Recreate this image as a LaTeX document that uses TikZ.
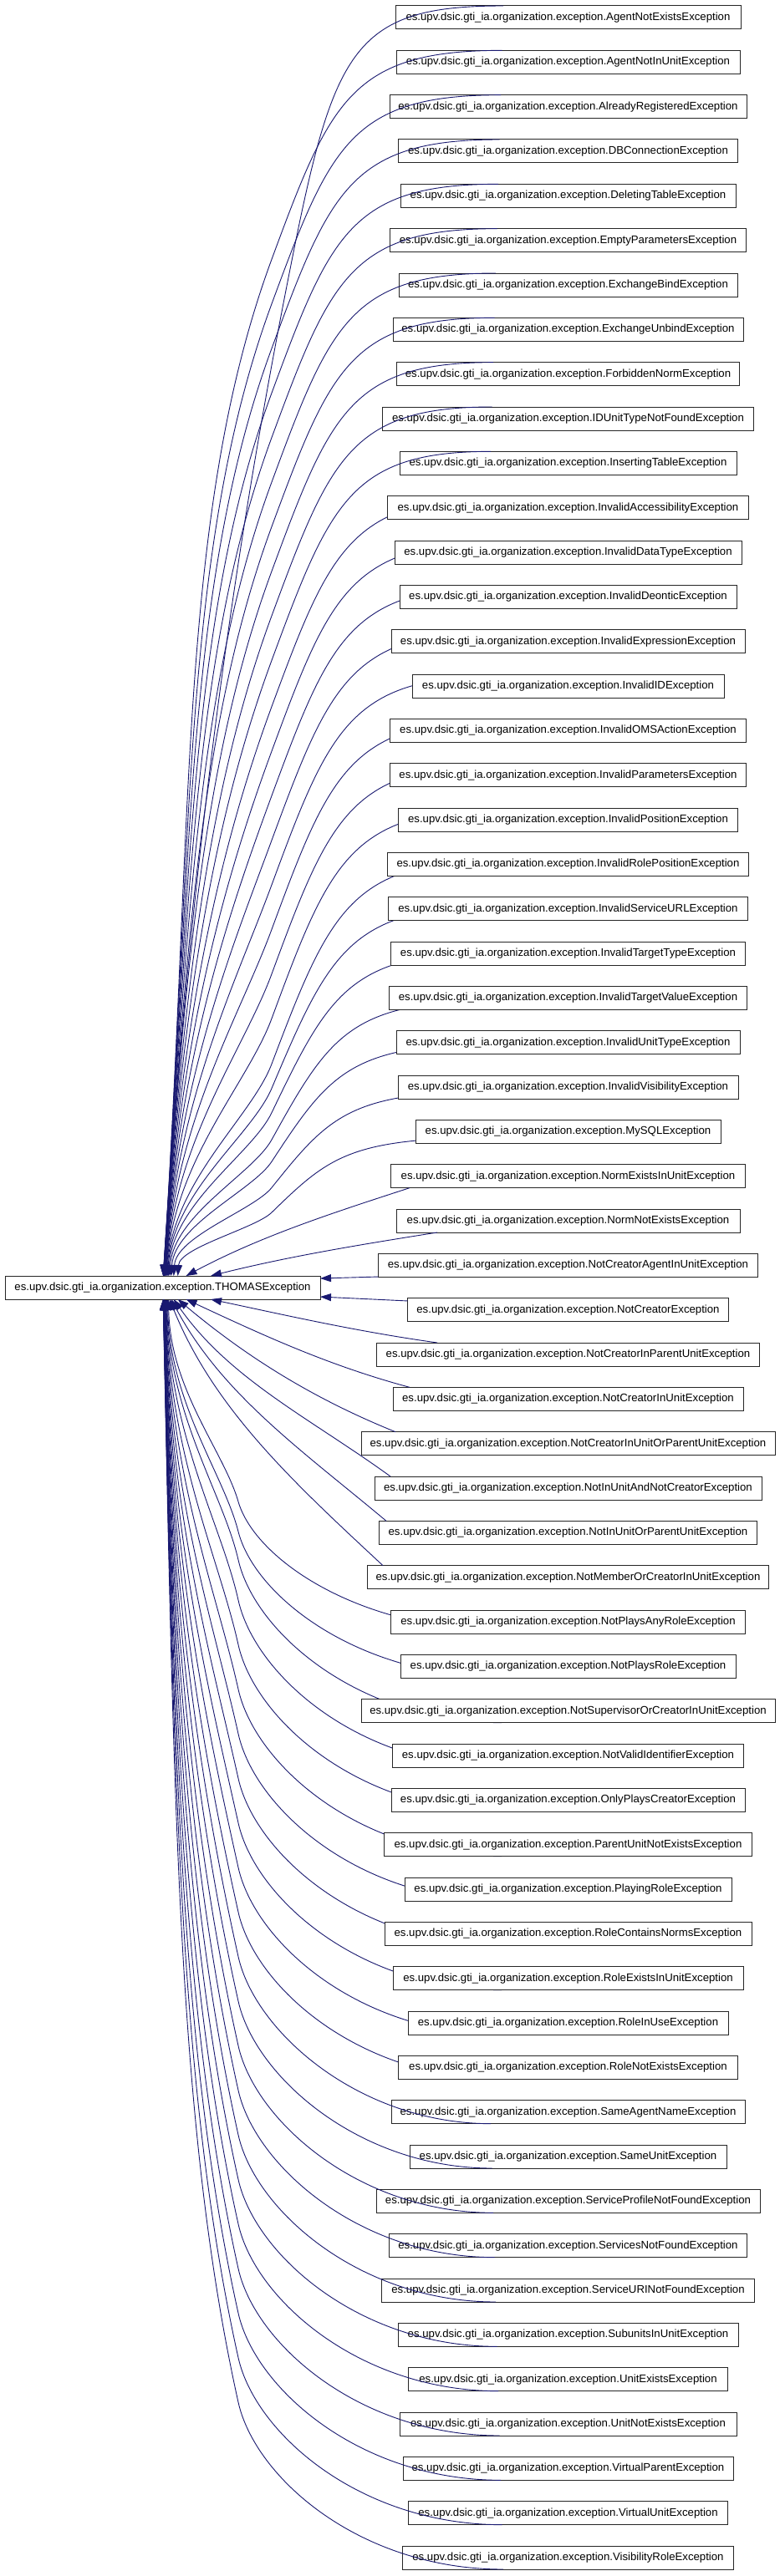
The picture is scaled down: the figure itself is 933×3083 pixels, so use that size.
\documentclass[tikz,border=0pt]{standalone}
\usepackage{fontspec}
\setmainfont{Liberation Sans}
\usetikzlibrary{arrows.meta,calc}
\definecolor{edgeblue}{HTML}{191970}
\pgfdeclarelayer{paper}
\pgfdeclarelayer{behind}
\pgfsetlayers{paper,behind,main}
\tikzset{
  cls/.style={draw=black!85, line width=1pt, fill=white, minimum height=28pt,
    inner sep=0pt, outer sep=0pt, font=\fontsize{13.2}{15}\selectfont, text=black},
  inh/.style={draw=edgeblue, line width=0.9pt, {Triangle[length=13pt,width=9pt]}-}
}
% edge to an upper child: #1 index, #2 vertical shift of end, #3 end x, #4 qx, #5 q offset, #6 c1x, #7 c1 offset, #8 c2x
\newcommand\famup[8]{%
  \pgfmathsetmacro\fTx{193+59/(29-#1)}%
  \pgfmathsetmacro\fT{7+53.333*(#1-1)}%
  \pgfmathsetmacro\fS{min(1,(1527-\fT)/520)}%
  \pgfmathsetmacro\fTb{\fT+#2}%
  \pgfmathsetmacro\fQy{\fTb+#5*\fS}%
  \pgfmathsetmacro\fH{1527-\fQy}%
  \pgfmathsetmacro\fCax{\fTx+0.03*\fH}%
  \pgfmathsetmacro\fCay{1527-0.45*\fH}%
  \pgfmathsetmacro\fK{0.25*\fH/((#5-#7)*\fS)}%
  \pgfmathsetmacro\fCbx{#4-(#6-#4)*\fK}%
  \pgfmathsetmacro\fCby{\fQy+0.25*\fH}%
  \pgfmathsetmacro\fCcy{\fTb+#7*\fS}%
  \draw[inh] ($(P.north)+(\fTx-194.5,0)$) .. controls (\fCax,\fCay) and (\fCbx,\fCby) .. (#4,\fQy)
     .. controls (#6,\fCcy) and (#8,\fTb) .. ($(n#1.north)+(#3-679.5,#2)$);
}
% edge to a lower child: #1 index, #2 vertical shift of end, #3 end x
\newcommand\famlo[3]{%
  \pgfmathsetmacro\fTx{193+59/(#1-30)}%
  \pgfmathsetmacro\fT{35+53.333*(#1-1)}%
  \pgfmathsetmacro\fS{min(1,(\fT-1555)/520)}%
  \pgfmathsetmacro\fTb{\fT-#2}%
  \pgfmathsetmacro\fQy{\fTb-200*\fS}%
  \pgfmathsetmacro\fH{\fQy-1555}%
  \pgfmathsetmacro\fCax{\fTx+0.01*\fH}%
  \pgfmathsetmacro\fCay{1555+0.45*\fH}%
  \pgfmathsetmacro\fCbx{285-20*0.25*\fH/(90*\fS)}%
  \pgfmathsetmacro\fCby{\fQy-0.25*\fH}%
  \pgfmathsetmacro\fCcy{\fTb-110*\fS}%
  \draw[inh] ($(P.south)+(\fTx-194.5,0)$) .. controls (\fCax,\fCay) and (\fCbx,\fCby) .. (285,\fQy)
     .. controls (305,\fCcy) and (430,\fTb) .. ($(n#1.south)+(#3-679.5,-#2)$);
}
\newcommand\famupd[3]{\famup{#1}{#2}{#3}{325}{250}{395}{60}{420}}
\begin{document}
\begin{tikzpicture}[x=1pt,y=-1pt]
\begin{pgfonlayer}{paper}
\fill[white] (0,0) rectangle (933,3083);
\end{pgfonlayer}
\useasboundingbox (0,0) rectangle (933,3083);
% parent node
\node[cls, minimum width=377pt] (P) at (194.5,1541) {es.upv.dsic.gti\_ia.organization.exception.THOMASException};
% child nodes
\foreach \i/\nm/\w in {
1/AgentNotExistsException/413,
2/AgentNotInUnitException/411,
3/AlreadyRegisteredException/427,
4/DBConnectionException/406,
5/DeletingTableException/401,
6/EmptyParametersException/426,
7/ExchangeBindException/405,
8/ExchangeUnbindException/419,
9/ForbiddenNormException/410,
10/IDUnitTypeNotFoundException/444,
11/InsertingTableException/403,
12/InvalidAccessibilityException/432,
13/InvalidDataTypeException/415,
14/InvalidDeonticException/403,
15/InvalidExpressionException/423,
16/InvalidIDException/373,
17/InvalidOMSActionException/426,
18/InvalidParametersException/426,
19/InvalidPositionException/406,
20/InvalidRolePositionException/432,
21/InvalidServiceURLException/430,
22/InvalidTargetTypeException/424,
23/InvalidTargetValueException/428,
24/InvalidUnitTypeException/411,
25/InvalidVisibilityException/407,
26/MySQLException/365,
27/NormExistsInUnitException/424,
28/NormNotExistsException/411,
29/NotCreatorAgentInUnitException/454,
30/NotCreatorException/384,
31/NotCreatorInParentUnitException/458,
32/NotCreatorInUnitException/419,
33/NotCreatorInUnitOrParentUnitException/495,
34/NotInUnitAndNotCreatorException/463,
35/NotInUnitOrParentUnitException/452,
36/NotMemberOrCreatorInUnitException/480,
37/NotPlaysAnyRoleException/424,
38/NotPlaysRoleException/401,
39/NotSupervisorOrCreatorInUnitException/495,
40/NotValidIdentifierException/420,
41/OnlyPlaysCreatorException/423,
42/ParentUnitNotExistsException/440,
43/PlayingRoleException/391,
44/RoleContainsNormsException/439,
45/RoleExistsInUnitException/419,
46/RoleInUseException/383,
47/RoleNotExistsException/406,
48/SameAgentNameException/423,
49/SameUnitException/379,
50/ServiceProfileNotFoundException/459,
51/ServicesNotFoundException/428,
52/ServiceURINotFoundException/446,
53/SubunitsInUnitException/407,
54/UnitExistsException/382,
55/UnitNotExistsException/403,
56/VirtualParentException/395,
57/VirtualUnitException/382,
58/VisibilityRoleException/396}{
  \pgfmathsetmacro\cy{21+53.333*(\i-1)}
  \node[cls, minimum width=\w pt] (n\i) at (679.5,\cy) {es.upv.dsic.gti\_ia.organization.exception.\nm};
}
% edges whose last part runs behind the child box
\begin{pgfonlayer}{behind}
\famupd{12}{2}{600}\famupd{13}{2}{600}\famupd{14}{2}{600}\famupd{15}{2}{600}
\famupd{16}{2}{600}\famupd{17}{2}{600}\famupd{18}{2}{600}\famupd{19}{2}{600}
\famupd{20}{9.4}{600}\famupd{21}{10.9}{600}\famupd{22}{12.4}{600}\famupd{23}{17}{600}
\famupd{24}{15.5}{600}\famupd{25}{19}{600}\famupd{26}{21}{600}
\famlo{37}{4}{600}\famlo{38}{1}{600}\famlo{39}{0}{600}
\foreach \i in {40,...,47}{\famlo{\i}{0}{600}}
\end{pgfonlayer}
% edges that pass over the corner of the child box and end on its top / bottom edge
\famup{1}{0}{602}{350}{300}{400}{50}{425}
\foreach \i in {2,...,11}{\pgfmathsetmacro\ex{602-1.5*(\i-1)}\famupd{\i}{0}{\ex}}
\foreach \i in {48,...,58}{\pgfmathsetmacro\ex{587+1.5*(\i-48)}\famlo{\i}{0}{\ex}}
% near upper children, ending on the bottom edge
\foreach \i/\ex/\aa/\ab in {27/490/-28/-18, 28/523/-14/-9}{
  \pgfmathsetmacro\tx{193+59/(29-\i)}
  \pgfmathsetmacro\ey{35+53.333*(\i-1)}
  \pgfmathsetmacro\r{0.35*veclen(\ex-\tx,1527-\ey)}
  \pgfmathsetmacro\ax{\tx+\r*cos(\aa)}
  \pgfmathsetmacro\ay{1527+\r*sin(\aa)}
  \pgfmathsetmacro\bx{\ex-\r*cos(\ab)}
  \pgfmathsetmacro\by{\ey-\r*sin(\ab)}
  \draw[inh] ($(P.north)+(\tx-194.5,0)$) .. controls (\ax,\ay) and (\bx,\by) .. ($(n\i.south)+(\ex-679.5,0)$);
}
% near lower children, ending on the top edge
\foreach \i/\ex/\aa/\ab in {31/523/12/8, 32/490/25/15, 33/473/40/22, 34/467/55/36, 35/462/62/40, 36/458/68/43}{
  \pgfmathsetmacro\tx{193+59/(\i-30)}
  \pgfmathsetmacro\ey{7+53.333*(\i-1)}
  \pgfmathsetmacro\r{0.35*veclen(\ex-\tx,\ey-1555)}
  \pgfmathsetmacro\ax{\tx+\r*cos(\aa)}
  \pgfmathsetmacro\ay{1555+\r*sin(\aa)}
  \pgfmathsetmacro\bx{\ex-\r*cos(\ab)}
  \pgfmathsetmacro\by{\ey-\r*sin(\ab)}
  \draw[inh] ($(P.south)+(\tx-194.5,0)$) .. controls (\ax,\ay) and (\bx,\by) .. ($(n\i.north)+(\ex-679.5,0)$);
}
% the two nearest children, to the right side of the parent
\draw[inh] ($(P.east)+(0,-11)$) -- ($(n29.west)+(0,13.7)$);
\draw[inh] ($(P.east)+(0,11)$) -- ($(n30.west)+(0,-10.7)$);
\end{tikzpicture}
\end{document}
